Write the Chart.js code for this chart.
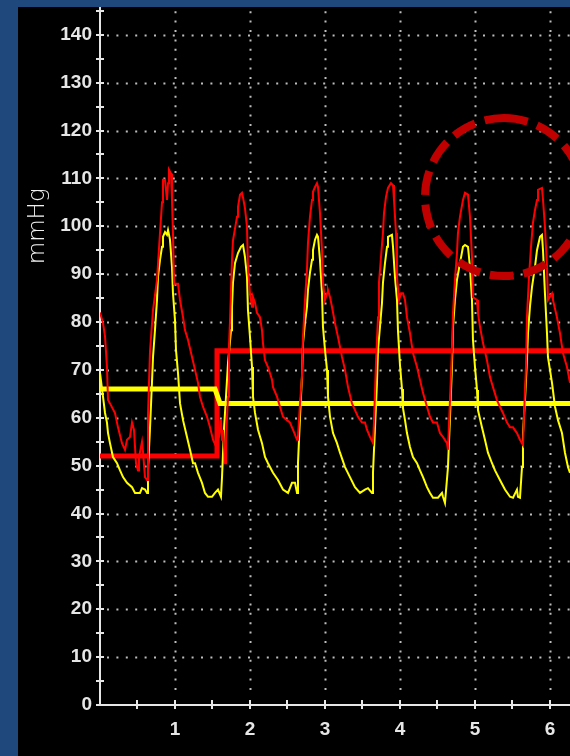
<!DOCTYPE html>
<html>
<head>
<meta charset="utf-8">
<script src="https://cdn.jsdelivr.net/npm/chart.js@4/dist/chart.umd.min.js"></script>
<style>
  html, body { margin: 0; padding: 0; background: #1f497d; width: 570px; height: 756px; overflow: hidden; }
  #wrap { position: absolute; left: 18px; top: 7px; width: 552px; height: 749px; background: #000; }
  canvas { display: block; }
</style>
</head>
<body>
<div id="wrap"><canvas id="bp" width="552" height="749"></canvas></div>
<script>
// arterial pressure traces, time in seconds, pressure in mmHg
const redT = [0, 0.04, 0.067, 0.093, 0.107, 0.133, 0.2, 0.24, 0.293, 0.333, 0.36, 0.4, 0.427, 0.453, 0.48, 0.507, 0.52, 0.56, 0.573, 0.6, 0.627, 0.64, 0.667, 0.707, 0.76, 0.8, 0.827, 0.84, 0.867, 0.893, 0.907, 0.92, 0.947, 0.96, 0.973, 0.987,
  1.04, 1.067, 1.107, 1.133, 1.173, 1.227, 1.267, 1.307, 1.333, 1.373, 1.427, 1.467, 1.507, 1.547, 1.587, 1.613, 1.627, 1.64, 1.667, 1.68, 1.707, 1.72, 1.733, 1.76, 1.773, 1.827, 1.84, 1.867, 1.893, 1.907, 1.933, 1.96, 1.973,
  2.0, 2.027, 2.04, 2.067, 2.093, 2.133, 2.16, 2.173, 2.2, 2.24, 2.293, 2.307, 2.36, 2.4, 2.44, 2.493, 2.533, 2.573, 2.627, 2.64, 2.667, 2.693, 2.707, 2.733, 2.76, 2.773, 2.8, 2.827, 2.84, 2.867, 2.893, 2.907, 2.933, 2.96, 2.973,
  3.0, 3.027, 3.04, 3.067, 3.093, 3.133, 3.173, 3.227, 3.267, 3.307, 3.36, 3.4, 3.44, 3.493, 3.533, 3.56, 3.6, 3.64, 3.653, 3.68, 3.707, 3.72, 3.747, 3.773, 3.787, 3.813, 3.84, 3.88, 3.907, 3.92, 3.947, 3.96, 3.987,
  4.013, 4.04, 4.067, 4.093, 4.133, 4.173, 4.227, 4.267, 4.307, 4.36, 4.4, 4.44, 4.493, 4.533, 4.573, 4.627, 4.64, 4.667, 4.693, 4.707, 4.733, 4.76, 4.773, 4.8, 4.84, 4.867, 4.907, 4.933, 4.96, 4.973,
  5.027, 5.04, 5.067, 5.107, 5.16, 5.2, 5.24, 5.293, 5.333, 5.373, 5.427, 5.467, 5.507, 5.56, 5.6, 5.64, 5.653, 5.68, 5.693, 5.72, 5.747, 5.773, 5.8, 5.827, 5.84, 5.893, 5.907, 5.933, 5.96, 5.973,
  6.027, 6.04, 6.093, 6.133, 6.173, 6.227, 6.267];
const redP = [82, 79.8, 77, 70.6, 63.7, 63, 61, 58, 54.7, 53.3, 55.4, 56, 59, 57.5, 50.5, 49, 51.8, 55, 53, 47.6, 47, 60.5, 74, 82.5, 88.8, 98.6, 105, 109.7, 109.7, 105.5, 109, 111.8, 111, 105.5, 98.6, 88,
  88, 84.6, 81, 78.3, 76.3, 72.7, 70, 67.3, 64.4, 62.3, 60.2, 58, 55.4, 54, 56, 59.5, 55.4, 57.5, 50.5, 55.4, 64.4, 74.8, 80, 93, 97, 102, 104, 106.6, 107, 106, 103.8, 99.9, 91.5,
  86, 83.2, 85.2, 84, 81.9, 81, 78.3, 75.6, 72, 70.6, 68, 66.4, 64.4, 62.3, 60.2, 59.5, 59, 57.5, 55.4, 56, 63, 68.5, 76.9, 84.6, 90.9, 96.5, 102, 105.5, 107.2, 108.2, 109, 108.2, 102.8, 95, 88.2,
  84.6, 86, 86.7, 85.2, 83.2, 79.8, 76.9, 72.7, 70, 66.4, 63, 61.6, 60.2, 59, 59, 57.5, 56, 54.7, 59, 71.5, 81, 88.2, 93.6, 98.6, 102.8, 106.1, 108, 109, 108.6, 105.5, 98.6, 89.4, 84.6,
  86, 86, 84.6, 81, 77.7, 73.5, 70.6, 67.9, 65.2, 62.3, 60.2, 59, 59, 56.8, 56, 54.7, 53.3, 63.7, 74.2, 81.9, 88.8, 94.4, 98.6, 102, 105.5, 107, 106.6, 102, 93.6, 85.2,
  84.6, 81.9, 79, 75.6, 72, 68.5, 66.4, 63.7, 62.3, 61, 59, 58, 58, 56.8, 55.4, 54.3, 60.2, 70.6, 81, 89.4, 95.7, 100.7, 103.4, 105.5, 107.6, 108, 105.5, 99.9, 91.5, 84.6,
  86, 84.6, 81, 77.7, 73.5, 70.6, 67.3];

const yellowT = [0, 0.04, 0.067, 0.093, 0.107, 0.133, 0.173, 0.227, 0.267, 0.307, 0.36, 0.427, 0.467, 0.533, 0.56, 0.6, 0.627, 0.64, 0.667, 0.693, 0.707, 0.733, 0.76, 0.773, 0.8, 0.827, 0.84, 0.867, 0.893, 0.907, 0.933, 0.96, 0.973,
  1.0, 1.013, 1.04, 1.067, 1.107, 1.16, 1.2, 1.24, 1.267, 1.307, 1.36, 1.4, 1.44, 1.493, 1.533, 1.573, 1.613, 1.627, 1.653, 1.68, 1.707, 1.747, 1.76, 1.773, 1.8, 1.84, 1.88, 1.907, 1.933, 1.96, 1.973,
  2.0, 2.027, 2.04, 2.067, 2.107, 2.16, 2.2, 2.24, 2.307, 2.373, 2.44, 2.507, 2.56, 2.6, 2.627, 2.64, 2.667, 2.693, 2.707, 2.733, 2.76, 2.773, 2.8, 2.827, 2.84, 2.867, 2.893, 2.907, 2.933, 2.96, 2.973,
  3.0, 3.027, 3.04, 3.067, 3.107, 3.16, 3.2, 3.267, 3.333, 3.4, 3.467, 3.533, 3.573, 3.627, 3.64, 3.667, 3.693, 3.707, 3.733, 3.76, 3.773, 3.8, 3.827, 3.84, 3.893, 3.907, 3.933, 3.96, 3.973,
  4.0, 4.027, 4.04, 4.067, 4.093, 4.133, 4.173, 4.227, 4.267, 4.307, 4.36, 4.4, 4.44, 4.507, 4.56, 4.573, 4.6, 4.64, 4.667, 4.693, 4.707, 4.733, 4.76, 4.8, 4.84, 4.867, 4.907, 4.933, 4.96, 4.973,
  5.0, 5.027, 5.04, 5.093, 5.133, 5.173, 5.227, 5.267, 5.333, 5.4, 5.467, 5.507, 5.56, 5.573, 5.6, 5.627, 5.64, 5.667, 5.693, 5.707, 5.733, 5.76, 5.8, 5.827, 5.867, 5.893, 5.907, 5.933, 5.96, 5.973,
  6.027, 6.067, 6.107, 6.16, 6.2, 6.24, 6.267];
const yellowP = [69.4, 64.4, 61, 59, 56.8, 54.7, 51.8, 50.5, 49, 47.6, 46.4, 45.5, 44.3, 44.3, 45.3, 45, 44.3, 49, 58, 67.3, 72.7, 78.3, 84.6, 89.4, 93, 95.7, 97.8, 98.8, 98.2, 99.2, 97.2, 91.5, 86,
  80.4, 74.2, 69.4, 63, 59.5, 56, 53.3, 50.5, 50.5, 48.5, 46.4, 44.3, 43.5, 43.5, 44.3, 45, 43.5, 47.6, 57.5, 64.4, 71.5, 78.3, 83.2, 88.2, 92.3, 94.4, 95.7, 96.1, 93.6, 89.4, 82.5,
  76.9, 70.6, 64.4, 61, 57.5, 54.7, 51.8, 50.5, 48.5, 47, 45, 44.3, 46.4, 46.4, 44.3, 50.5, 60.2, 68.5, 75.6, 79.8, 83.2, 86.7, 90.3, 93, 95, 97.2, 98.2, 97.8, 93, 86, 79,
  74.2, 70, 64.4, 60.2, 56.8, 54.7, 52.7, 49.7, 47.6, 45.5, 44.3, 45, 45.3, 44.3, 48.5, 58, 67.3, 74.2, 79, 84, 88.2, 92.3, 95.7, 97.8, 98.2, 95.7, 89.4, 84.6, 78.3,
  71, 66, 62, 59.5, 56.8, 53.9, 51.8, 50.5, 49, 47.6, 45.5, 44.3, 43.3, 43.3, 44.3, 43.5, 42.2, 49.7, 60.2, 70.6, 79, 84.6, 88.8, 92.3, 95.7, 96.1, 95.7, 91.5, 84.6, 76.3,
  70.6, 65.8, 61.6, 58, 55.4, 52.7, 50.5, 49, 47, 45, 43.5, 43.3, 45, 43.5, 43.3, 49.7, 56.8, 63.7, 72, 77.7, 83.2, 87.3, 91.5, 95, 97.8, 98.2, 95, 86, 77.7, 72.7,
  67.3, 62.3, 59.5, 56.8, 52.7, 49.7, 48.5];

// mean pressure steps
const redMeanT = [0, 1.56, 1.56, 6.267];
const redMeanP = [52, 52, 74, 74];
const yellowMeanT = [0, 1.533, 1.6, 6.267];
const yellowMeanP = [66, 66, 63, 63];

// axes
const xLabels = [1, 2, 3, 4, 5, 6];
const xTickMarks = [0.5, 1, 1.5, 2, 2.5, 3, 3.5, 4, 4.5, 5, 5.5, 6];
const yLabels = [0, 10, 20, 30, 40, 50, 60, 70, 80, 90, 100, 110, 120, 130, 140];
const yTickMarks = [0, 5, 10, 15, 20, 25, 30, 35, 40, 45, 50, 55, 60, 65, 70, 75, 80, 85, 90, 95, 100, 105, 110, 115, 120, 125, 130, 135, 140, 145];
const xMax = 6.267;
const yMax = 145.8;
const yTitle = 'mmHg';

// highlighted region (dashed circle)
const circleT = 5.387;
const circleP = 106.1;
const circleR = 16.5; // in mmHg

const axisColor = '#e6e6e6';
const dotColor = '#bdbdbd';

function pts(ts, ps) { return ts.map((t, i) => ({ x: t, y: ps[i] })); }

const monitorGrid = {
    id: 'monitorGrid',
    beforeDatasetsDraw(chart) {
        const { ctx, chartArea: a, scales: { x, y } } = chart;
        ctx.save();
        // dotted grid
        ctx.strokeStyle = dotColor;
        ctx.lineWidth = 2;
        ctx.setLineDash([2, 7.4]);
        yLabels.forEach(v => {
            if (v === 0) return;
            const py = Math.round(y.getPixelForValue(v)) + 0.5;
            ctx.beginPath(); ctx.moveTo(a.left + 7, py); ctx.lineTo(a.right, py); ctx.stroke();
        });
        xLabels.forEach(t => {
            const px = Math.round(x.getPixelForValue(t)) + 0.5;
            ctx.beginPath(); ctx.moveTo(px, a.bottom - 15); ctx.lineTo(px, a.top); ctx.stroke();
        });
        ctx.setLineDash([]);
        // axis lines
        ctx.strokeStyle = axisColor;
        ctx.lineWidth = 2;
        ctx.beginPath();
        ctx.moveTo(a.left, a.top); ctx.lineTo(a.left, a.bottom);
        ctx.moveTo(a.left - 1, a.bottom); ctx.lineTo(a.right, a.bottom);
        ctx.stroke();
        // tick marks crossing the axes
        ctx.beginPath();
        yTickMarks.forEach(v => {
            const py = Math.round(y.getPixelForValue(v));
            ctx.moveTo(a.left - 4, py); ctx.lineTo(a.left + 4, py);
        });
        xTickMarks.forEach(t => {
            const px = Math.round(x.getPixelForValue(t));
            ctx.moveTo(px, a.bottom - 5); ctx.lineTo(px, a.bottom + 4);
        });
        ctx.stroke();
        // axis title
        ctx.fillStyle = '#f0f0f0';
        ctx.font = "200 23px 'DejaVu Sans', sans-serif";
        ctx.textAlign = 'center';
        ctx.textBaseline = 'alphabetic';
        ctx.translate(a.left - 56, y.getPixelForValue(100));
        ctx.rotate(-Math.PI / 2);
        ctx.fillText(yTitle, 0, 0);
        ctx.restore();
    },
    afterDatasetsDraw(chart) {
        const { ctx, scales: { x, y } } = chart;
        const cx = x.getPixelForValue(circleT);
        const cy = y.getPixelForValue(circleP);
        const r = Math.abs(y.getPixelForValue(circleP + circleR) - cy);
        ctx.save();
        ctx.strokeStyle = '#c00000';
        ctx.lineWidth = 8;
        ctx.setLineDash([24, 10]);
        ctx.beginPath();
        ctx.arc(cx, cy, r, -Math.PI / 2, 1.5 * Math.PI);
        ctx.stroke();
        ctx.restore();
    }
};

new Chart(document.getElementById('bp'), {
    type: 'line',
    data: {
        datasets: [
            { data: pts(redT, redP), borderColor: '#ff0000', borderWidth: 2, order: 0 },
            { data: pts(yellowT, yellowP), borderColor: '#ffff00', borderWidth: 2, order: 1 },
            { data: pts(yellowMeanT, yellowMeanP), borderColor: '#ffff00', borderWidth: 5, order: 2 },
            { data: pts(redMeanT, redMeanP), borderColor: '#ff0000', borderWidth: 5, order: 3 }
        ]
    },
    options: {
        responsive: false,
        animation: false,
        layout: { padding: 0 },
        elements: { point: { radius: 0 }, line: { tension: 0, fill: false } },
        plugins: { legend: { display: false }, tooltip: { enabled: false } },
        scales: {
            x: {
                type: 'linear', min: 0, max: xMax,
                grid: { display: false, drawTicks: false },
                border: { display: false },
                afterBuildTicks: s => { s.ticks = xLabels.map(v => ({ value: v })); },
                afterFit: s => { s.height = 51; s.paddingLeft = 0; s.paddingRight = 0; },
                ticks: { color: axisColor, padding: 13, maxRotation: 0, autoSkip: false,
                    font: { family: "'Liberation Sans', Arial, sans-serif", size: 19, weight: 'bold' } }
            },
            y: {
                type: 'linear', min: 0, max: yMax,
                grid: { display: false, drawTicks: false },
                border: { display: false },
                afterBuildTicks: s => { s.ticks = yLabels.map(v => ({ value: v })); },
                afterFit: s => { s.width = 82; s.paddingTop = 0; s.paddingBottom = 0; },
                ticks: { color: axisColor, padding: 8, autoSkip: false,
                    font: { family: "'Liberation Sans', Arial, sans-serif", size: 19, weight: 'bold' } }
            }
        }
    },
    plugins: [monitorGrid]
});
</script>
</body>
</html>
